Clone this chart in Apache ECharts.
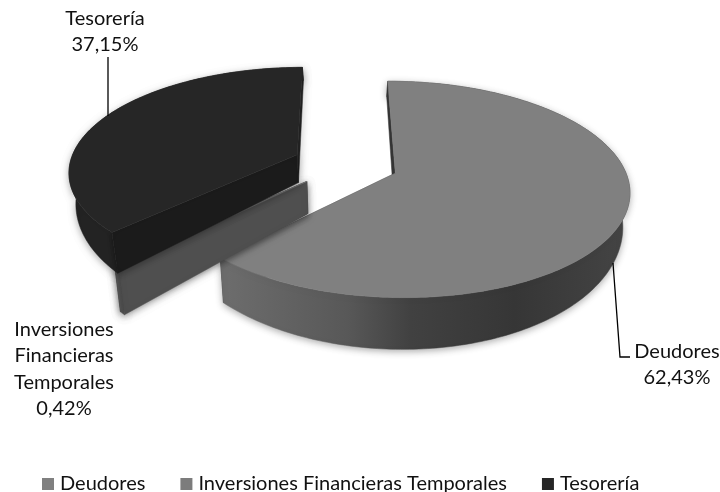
<!DOCTYPE html>
<html><head><meta charset="utf-8">
<style>html,body{margin:0;padding:0;background:#fff}#c{width:720px;height:492px}</style>
<script src="https://cdn.jsdelivr.net/npm/echarts@6/dist/echarts.min.js"></script>
</head><body><div id="c"></div>
<script>
const categories = ['Deudores', 'Inversiones Financieras Temporales', 'Tesorería'];
const shares = [62.43, 0.42, 37.15];
const labelNames = ['Deudores', 'Inversiones\nFinancieras\nTemporales', 'Tesorería'];

// Projection of the tilted, exploded pie
const firstAngle = -0.3, explode = 0.233;
const P = {cx: 345.5, cy: 164, a: 227.7, b: 103, p: 0.1486, cyB: 193.3, bB: 120.3, sB: 0.975};
const rad = d => d * Math.PI / 180;
const total = shares.reduce((s, v) => s + v, 0);
function proj(X, Y, bottom) {
  const w = 1 + P.p * Y;
  const sx = P.a * X / w;
  return bottom
    ? [P.cx + sx * P.sB, P.cyB - P.bB * Y / w]
    : [P.cx + sx, P.cy - P.b * Y / w];
}
const looks = [
  {top: '#808080', outer: {type:'linear', x:228, y:0, x2:626, y2:0, global:true, colorStops:[
      {offset:0,color:'#6c6c6c'},{offset:.3,color:'#585858'},{offset:.46,color:'#414141'},{offset:.72,color:'#363636'},{offset:1,color:'#444444'}]},
   a:'#343434', b:'#3a3a3a'},
  {top: '#7c7c7c', outer:'#5a5a5a', a:'#4f4f4f', b:'#3a3a3a'},
  {top: '#262626', outer:'#232323', a:'#1b1b1b', b:'#222222'}
];
function renderSlice(index) {
  return function (params, api) {
    const share = api.value(0);
    let before = 0;
    for (let i = 0; i < index; i++) before += shares[i];
    const t0 = firstAngle + before / total * 360;
    const t1 = t0 + share / total * 360;
    const mid = rad((t0 + t1) / 2);
    const ox = explode * Math.sin(mid), oy = explode * Math.cos(mid);
    const topArc = [], botArc = [];
    const steps = Math.max(6, Math.ceil(t1 - t0));
    for (let i = 0; i <= steps; i++) {
      const t = rad(t0 + (t1 - t0) * i / steps);
      const X = ox + Math.sin(t), Y = oy + Math.cos(t);
      topArc.push(proj(X, Y, false));
      botArc.push(proj(X, Y, true));
    }
    const apexT = proj(ox, oy, false), apexB = proj(ox, oy, true);
    const look = looks[index];
    const poly = (points, fill, shadow) => ({
      type: 'polygon', shape: {points},
      style: Object.assign({fill, stroke: fill, lineWidth: 0.5},
        shadow ? {shadowColor:'rgba(0,0,0,0.32)', shadowBlur:7, shadowOffsetY:2} : {})
    });
    const last = topArc.length - 1;
    return {type: 'group', children: [
      poly([apexT, topArc[last], botArc[last], apexB], look.b, index !== 0),
      poly(topArc.concat(botArc.slice().reverse()), look.outer, true),
      poly([apexT, topArc[0], botArc[0], apexB], look.a, index !== 0),
      poly([apexT].concat(topArc), look.top, false)
    ]};
  };
}
const labelFont = {fontFamily: 'Lato', fontSize: 20, fill: '#111', textAlign: 'center', lineHeight: 26.5, textVerticalAlign: 'top'};
const pctText = v => v.toFixed(2).replace('.', ',') + '%';
const labelAt = [[677, 338], [64, 316], [105, 5]];
const chart = echarts.init(document.getElementById('c'), null, {renderer: 'canvas'});
chart.setOption({
  animation: false,
  backgroundColor: '#fff',
  legend: {
    left: 37, top: 469, itemWidth: 12, itemHeight: 12, itemGap: 35, icon: 'rect',
    data: categories,
    textStyle: {fontFamily: 'Lato', fontSize: 20, color: '#111', padding: [0, 0, 0, 1]}
  },
  series: categories.map((name, i) => ({
    type: 'custom', name, coordinateSystem: 'none', silent: true,
    itemStyle: {color: ['#808080', '#7c7c7c', '#262626'][i]},
    data: [[shares[i]]],
    renderItem: renderSlice(i)
  })),
  graphic: {elements: [
    {type:'polyline', z:10, shape:{points:[[108,57],[108,116]]}, style:{stroke:'#000',lineWidth:1.3,fill:null}},
    {type:'polyline', z:10, shape:{points:[[613,263],[620,357],[630,357]]}, style:{stroke:'#000',lineWidth:1.3,fill:null}},
    ...labelNames.map((n, i) => ({
      type:'text', z:10, x: labelAt[i][0], y: labelAt[i][1],
      style: Object.assign({text: n + '\n' + pctText(shares[i])}, labelFont)
    }))
  ]}
});
</script></body></html>
